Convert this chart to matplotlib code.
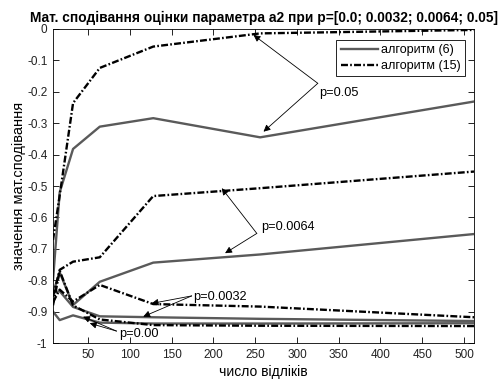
import matplotlib
matplotlib.use('Agg')
import matplotlib.pyplot as plt

# =============================================================================
# Data
# =============================================================================
n = [8, 16, 32, 64, 128, 256, 512]

# algorithm (6), solid grey
a6_p005 = [-0.80, -0.52, -0.382, -0.311, -0.284, -0.345, -0.231]
a6_p0064 = [-0.84, -0.775, -0.879, -0.805, -0.744, -0.718, -0.653]
a6_p0032 = [-0.84, -0.835, -0.885, -0.915, -0.918, -0.923, -0.930]
a6_p0 = [-0.90, -0.927, -0.912, -0.935, -0.938, -0.938, -0.937]

# algorithm (15), dash-dot black
a15_p005 = [-0.672, -0.53, -0.236, -0.124, -0.056, -0.014, -0.003]
a15_p0064 = [-0.852, -0.767, -0.741, -0.727, -0.532, -0.507, -0.454]
a15_p0032 = [-0.87, -0.83, -0.868, -0.815, -0.876, -0.884, -0.918]
a15_p0 = [-0.88, -0.77, -0.88, -0.925, -0.943, -0.945, -0.946]

legend_labels = ['алгоритм (6)', 'алгоритм (15)']

plt.rcParams['font.family'] = ['Liberation Sans', 'DejaVu Sans']
plt.rcParams['lines.scale_dashes'] = False

grey = '#5a5a5a'
dd = (0, (5, 1.6, 1.2, 1.6))

fig = plt.figure(figsize=(5.01, 3.81), dpi=100)
ax = fig.add_axes([0.1058, 0.0997, 0.8403, 0.8242])

l6 = None
for s in [a6_p005, a6_p0064, a6_p0032, a6_p0]:
    l6, = ax.plot(n, s, color=grey, lw=1.7)
l15 = None
for s in [a15_p005, a15_p0064, a15_p0032, a15_p0]:
    l15, = ax.plot(n, s, color='black', lw=1.7, linestyle=dd)

ax.set_xlim(8, 512)
ax.set_ylim(-1, 0)
ax.set_xticks([50, 100, 150, 200, 250, 300, 350, 400, 450, 500])
yt = [-1, -0.9, -0.8, -0.7, -0.6, -0.5, -0.4, -0.3, -0.2, -0.1, 0]
ax.set_yticks(yt)
ax.set_yticklabels(['-1' if v == -1 else ('0' if v == 0 else '%g' % v) for v in yt])
ax.tick_params(direction='in', top=True, right=True, labelsize=8.5, length=4,
               width=0.6, pad=4, labelcolor='#222222')
for sp in ax.spines.values():
    sp.set_linewidth(0.6)

ax.set_xlabel('число відліків', fontsize=10, labelpad=3)
ax.set_ylabel('значення мат.сподівання', fontsize=10.5, labelpad=1)
ax.set_title('Мат. сподівання оцінки параметра а2 при p=[0.0; 0.0032; 0.0064; 0.05]',
             fontsize=9.9, fontweight='bold', pad=5)

leg = ax.legend([l6, l15], legend_labels, loc='upper right', fontsize=9,
                fancybox=False, framealpha=1, edgecolor='black',
                borderpad=0.35, handlelength=3.0, handletextpad=0.2,
                labelspacing=0.3, borderaxespad=0,
                bbox_to_anchor=(0.978, 0.965))
leg.get_frame().set_linewidth(0.6)

# annotation arrows
ap = dict(arrowstyle='-|>', color='black', lw=0.6, mutation_scale=10,
          shrinkA=0, shrinkB=0)


def note(text, vertex, tpos, targets):
    ax.text(tpos[0], tpos[1], text, fontsize=9.2, va='center', ha='left')
    for t in targets:
        ax.annotate('', xy=t, xytext=vertex, arrowprops=ap)


note('p=0.05', (325, -0.173), (327, -0.203), [(248, -0.019), (260, -0.327)])
note('p=0.0064', (252, -0.651), (257, -0.632), [(210, -0.507), (214, -0.714)])
note('p=0.0032', (174, -0.850), (176, -0.855), [(126, -0.874), (116, -0.916)])
note('p=0.00', (84, -0.962), (87, -0.972), [(44, -0.916), (52, -0.937)])

fig.savefig('out.png', dpi=100)
